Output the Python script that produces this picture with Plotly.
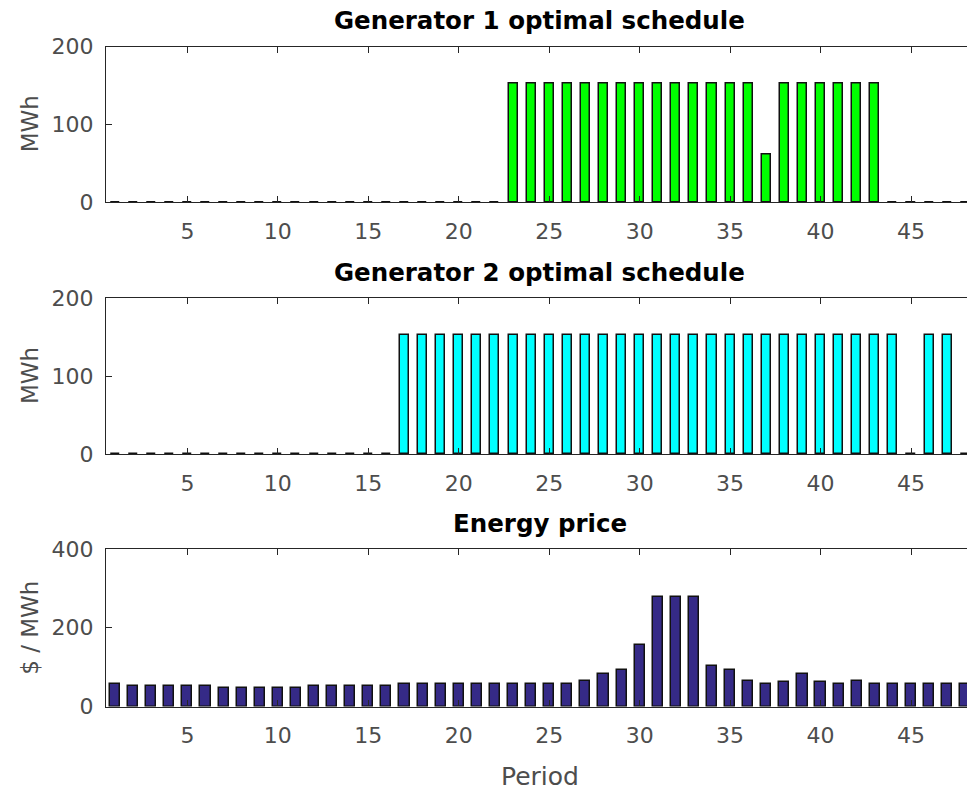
import plotly.graph_objects as go

periods = list(range(1, 49))

# generator 1 output (MWh) per period
gen1 = [0] * 22 + [153] * 14 + [61] + [153] * 6 + [0] * 5
# generator 2 output (MWh) per period
gen2 = [0] * 16 + [153] * 28 + [0] + [153] * 2 + [0]
# energy price ($/MWh) per period
price = [
    56, 52, 52, 52, 52, 52, 46, 46, 46, 46,
    46, 52, 52, 52, 52, 52, 56, 56, 56, 56,
    56, 56, 56, 56, 56, 56, 66, 82, 92, 157,
    278, 278, 278, 102, 92, 66, 56, 61, 82, 61,
    56, 66, 56, 56, 56, 56, 56, 56,
]

titles = ["Generator 1 optimal schedule", "Generator 2 optimal schedule", "Energy price"]
ylabels = ["MWh", "MWh", "$ / MWh"]

W, H = 967, 794
FONT = "DejaVu Sans, Liberation Sans, Arial, sans-serif"
AX = "#262626"
TXT = "#4d4d4d"

# panel tops/bottoms in px
panels = [(46.5, 202), (298, 454), (549, 706.5)]
x_left = 106 / W

fig = go.Figure()
series = [(gen1, "#00ff00", 0.5), (gen2, "#00ffff", 0.5), (price, "#352a87", 0.56)]
for i, (vals, color, width) in enumerate(series):
    n = "" if i == 0 else str(i + 1)
    fig.add_trace(
        go.Bar(
            x=periods,
            y=vals,
            width=width,
            marker=dict(color=color, line=dict(color="#111111", width=1.5)),
            xaxis="x" + n,
            yaxis="y" + n,
            showlegend=False,
        )
    )

layout = dict(
    width=W,
    height=H,
    autosize=False,
    margin=dict(l=0, r=0, t=0, b=0, pad=0),
    paper_bgcolor="white",
    plot_bgcolor="white",
    font=dict(family=FONT, size=22, color=TXT),
    bargap=0,
)

annotations = []
for i, (top, bot) in enumerate(panels):
    n = "" if i == 0 else str(i + 1)
    ymax = 400 if i == 2 else 200
    layout["xaxis" + n] = dict(
        domain=[x_left, 1],
        range=[0.5, 0.5 + 861 / 18.09],
        anchor="y" + n,
        automargin=False,
        tickvals=[5, 10, 15, 20, 25, 30, 35, 40, 45],
        ticks="inside",
        ticklen=6,
        tickwidth=1.2,
        tickcolor=AX,
        showline=True,
        linecolor=AX,
        linewidth=1.2,
        mirror="ticks",
        showgrid=False,
        zeroline=False,
        ticklabelstandoff=9,
        tickfont=dict(size=22, color=TXT),
    )
    layout["yaxis" + n] = dict(
        domain=[1 - bot / H, 1 - top / H],
        range=[0, ymax],
        anchor="x" + n,
        automargin=False,
        tickvals=[0, ymax / 2, ymax],
        ticks="inside",
        ticklen=6,
        tickwidth=1.2,
        tickcolor=AX,
        showline=True,
        linecolor=AX,
        linewidth=1.2,
        showgrid=False,
        zeroline=False,
        ticklabelstandoff=7,
        tickfont=dict(size=22, color=TXT),
    )
    annotations.append(
        dict(
            text="<b>" + titles[i] + "</b>",
            x=539.5 / W,
            y=1 - (top - 26) / H,
            xref="paper",
            yref="paper",
            xanchor="center",
            yanchor="middle",
            showarrow=False,
            font=dict(size=24.5, color="black"),
        )
    )
    annotations.append(
        dict(
            text=ylabels[i],
            x=30 / W,
            y=1 - (top + bot) / 2 / H,
            xref="paper",
            yref="paper",
            xanchor="center",
            yanchor="middle",
            textangle=-90,
            showarrow=False,
            font=dict(size=23, color=TXT),
        )
    )

annotations.append(
    dict(
        text="Period",
        x=539.5 / W,
        y=1 - 776 / H,
        xref="paper",
        yref="paper",
        xanchor="center",
        yanchor="middle",
        showarrow=False,
        font=dict(size=25, color=TXT),
    )
)
layout["annotations"] = annotations

fig.update_layout(**layout)
# the page body has a default 8px margin; drop it so the figure sits at the corner
fig.write_html(
    "out.html",
    config={"displayModeBar": False},
    post_script="document.body.style.margin = '0';",
)
